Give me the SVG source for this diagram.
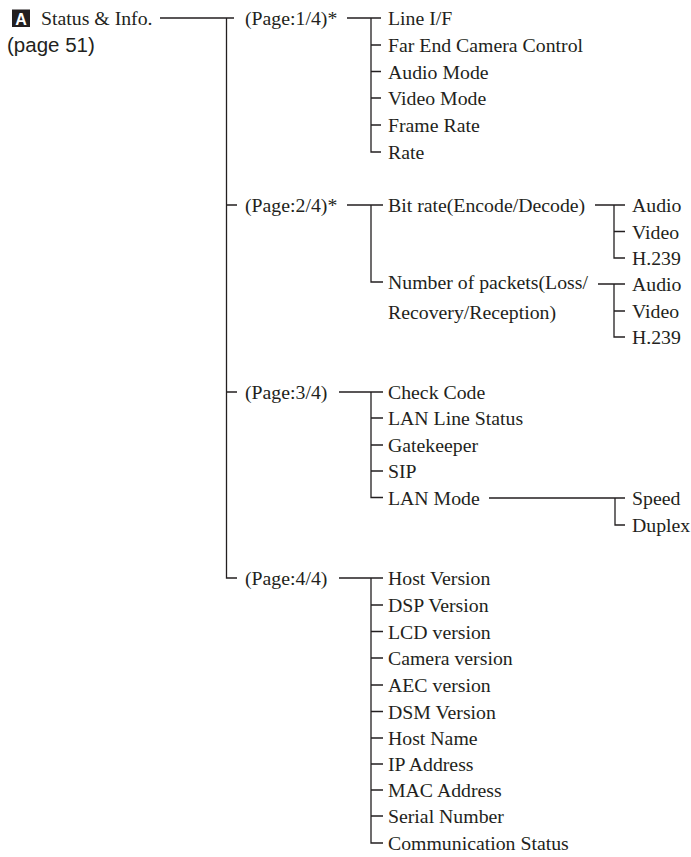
<svg xmlns="http://www.w3.org/2000/svg" width="691" height="857" viewBox="0 0 691 857">
<style>
.t{font-family:"Liberation Serif","Times New Roman",serif;font-size:19.8px;fill:#231f20}
.s{font-family:"Liberation Sans",Arial,sans-serif;font-size:20.5px;fill:#231f20}
.c{fill:none;stroke:#231f20;stroke-width:1.3}
</style>
<rect width="691" height="857" fill="#fff"/>
<g id="root">
<rect x="12" y="9.5" width="18" height="17.5" fill="#231f20"/>
<text x="21" y="25" text-anchor="middle" style="font-family:'Liberation Sans',Arial,sans-serif;font-weight:bold;font-size:16px;fill:#fff">A</text>
<text class="t" x="41" y="25">Status &amp; Info.</text>
<text class="s" x="7" y="52">(page 51)</text>
</g>
<g id="p1"><text class="t" x="245" y="25">(Page:1/4)*</text></g>
<g id="p2"><text class="t" x="245" y="212">(Page:2/4)*</text></g>
<g id="p3"><text class="t" x="245" y="399">(Page:3/4)</text></g>
<g id="p4"><text class="t" x="245" y="585">(Page:4/4)</text></g>
<g id="p1items">
<text class="t" x="388" y="25">Line I/F</text>
<text class="t" x="388" y="52">Far End Camera Control</text>
<text class="t" x="388" y="78.5">Audio Mode</text>
<text class="t" x="388" y="105">Video Mode</text>
<text class="t" x="388" y="132">Frame Rate</text>
<text class="t" x="388" y="159">Rate</text>
</g>
<g id="p2items">
<text class="t" x="388" y="212">Bit rate(Encode/Decode)</text>
<text class="t" x="388" y="289">Number of packets(Loss/</text>
<text class="t" x="388" y="319">Recovery/Reception)</text>
<text class="t" x="632" y="212">Audio</text>
<text class="t" x="632" y="238.5">Video</text>
<text class="t" x="632" y="264.5">H.239</text>
<text class="t" x="632" y="291">Audio</text>
<text class="t" x="632" y="318">Video</text>
<text class="t" x="632" y="344">H.239</text>
</g>
<g id="p3items">
<text class="t" x="388" y="399">Check Code</text>
<text class="t" x="388" y="425">LAN Line Status</text>
<text class="t" x="388" y="452">Gatekeeper</text>
<text class="t" x="388" y="478">SIP</text>
<text class="t" x="388" y="504.5">LAN Mode</text>
<text class="t" x="632" y="505">Speed</text>
<text class="t" x="632" y="532">Duplex</text>
</g>
<g id="p4items">
<text class="t" x="388" y="585">Host Version</text>
<text class="t" x="388" y="612">DSP Version</text>
<text class="t" x="388" y="638.5">LCD version</text>
<text class="t" x="388" y="665">Camera version</text>
<text class="t" x="388" y="692">AEC version</text>
<text class="t" x="388" y="718.5">DSM Version</text>
<text class="t" x="388" y="745">Host Name</text>
<text class="t" x="388" y="771">IP Address</text>
<text class="t" x="388" y="797">MAC Address</text>
<text class="t" x="388" y="823">Serial Number</text>
<text class="t" x="388" y="850">Communication Status</text>
</g>
<g id="connectors" class="c">
<path d="M160 18H234M226.5 18V578H237M226.5 205H237M226.5 392H237"/>
<path d="M347 18H381M371 18V152H381M371 45H381M371 71.5H381M371 98H381M371 125H381"/>
<path d="M347 205H383M371 205V282H383"/>
<path d="M595 205H625M614 205V258H625M614 231.5H625"/>
<path d="M598 284H625M614 284V337H625M614 311H625"/>
<path d="M339 392H383M371 392V497.5H383M371 418H383M371 445H383M371 471H383"/>
<path d="M489 498H625M615 498V525H625"/>
<path d="M339 578H383M371 578V843H383M371 605H383M371 631.5H383M371 658H383M371 685H383M371 711.5H383M371 738H383M371 764H383M371 790H383M371 816H383"/>
</g>
</svg>
